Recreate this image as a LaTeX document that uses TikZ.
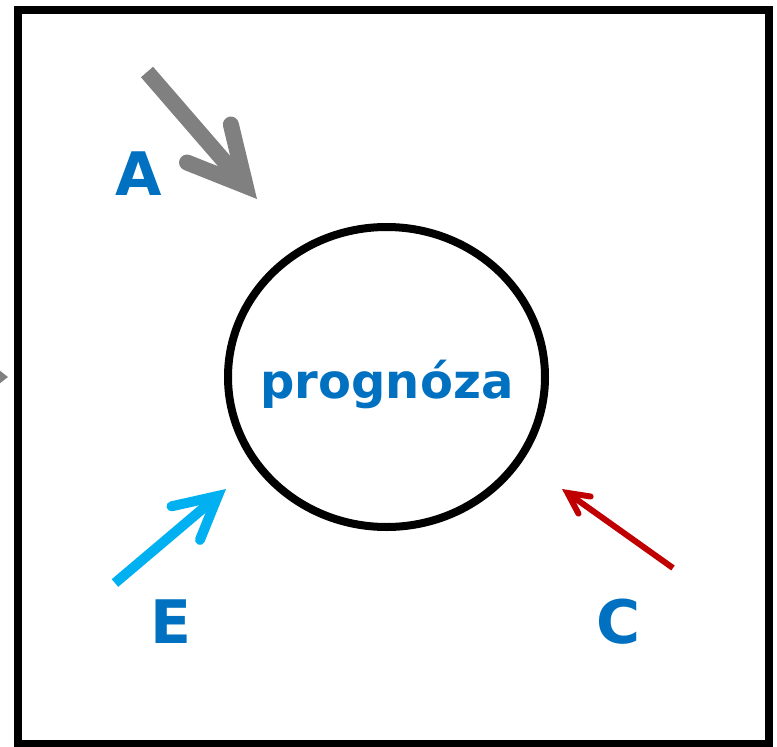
\documentclass[tikz,border=0pt]{standalone}
\usepackage{fontspec}
\setmainfont{DejaVu Sans}
\usepackage{tikz}
\usetikzlibrary{arrows.meta,shapes.geometric}
\definecolor{txtblue}{RGB}{0,112,192}
\definecolor{pgray}{RGB}{128,128,128}
\definecolor{pcyan}{RGB}{0,176,240}
\definecolor{pred}{RGB}{192,0,0}
\tikzset{
  ring/.style={draw=black, ellipse, line width=8pt, minimum width=317pt, minimum height=300pt, inner sep=0pt},
  lbl/.style={text=txtblue, anchor=base, inner sep=0pt, font=\bfseries\fontsize{60}{72}\selectfont},
  push/.style n args={4}{draw=#1, line width=#2, -{Straight Barb[line cap=round, line join=miter, length=#3, width=#4]}}
}

\begin{document}
\begin{tikzpicture}[x=1pt, y=-1pt]
    \useasboundingbox (0,0) rectangle (777,747);
    \clip (0,0) rectangle (777,747);
    \draw[line width=8pt] (18,10) rectangle (769,744);
    \node[ring] (ring) at (386.5,377) {};
    \node[lbl, font=\bfseries\fontsize{48}{56}\selectfont] (prog) at (387,398) {prognóza};
    \node[lbl] (labA) at (139,195) {A};
    \node[lbl] (labE) at (171,643) {E};
    \node[lbl] (labC) at (619,643) {C};
    \coordinate (aStart) at (147,72);
    \coordinate (aTip) at (257,199);
    \coordinate (eStart) at (115,583);
    \coordinate (eTip) at (226,489);
    \coordinate (cStart) at (673,568);
    \coordinate (cTip) at (562,489);
    \coordinate (offStart) at (-30,377);
    \coordinate (offTip) at (8,377);
    \draw[push={pgray}{16pt}{56pt}{58pt}] (aStart) -- (aTip);
    \draw[push={pcyan}{10pt}{42pt}{44pt}] (eStart) -- (eTip);
    \draw[push={pred}{6pt}{21pt}{21pt}] (cStart) -- (cTip);
    \draw[pgray, line width=4pt, -{Triangle[length=8pt, width=12pt]}] (offStart) -- (offTip);
  \end{tikzpicture}
\end{document}
